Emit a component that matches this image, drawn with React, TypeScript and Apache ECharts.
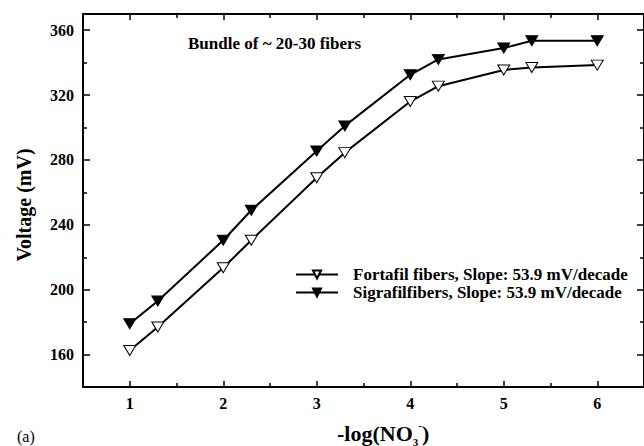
import React, { useEffect, useRef } from "react";
import * as echarts from "echarts";

const xValues = [1, 1.3, 2, 2.3, 3, 3.3, 4, 4.3, 5, 5.3, 6];
const fortafil = [162.5, 177, 213.5, 230.5, 269, 284.5, 316, 325.5, 335.5, 337, 338.5];
const sigrafil = [179, 193, 230.5, 249, 285.5, 301, 332.5, 342, 349, 353.5, 353.5];
const seriesNames = [
  "Fortafil fibers, Slope: 53.9 mV/decade",
  "Sigrafilfibers, Slope: 53.9 mV/decade",
];
const xMajorTicks = [1, 2, 3, 4, 5, 6];
const xMinorTicks = [1.5, 2.5, 3.5, 4.5, 5.5];
const yMajorTicks = [160, 200, 240, 280, 320, 360];
const yMinorTicks = [180, 220, 260, 300, 340];
const annotation = "Bundle of ~ 20-30 fibers";
const panelLabel = "(a)";
const yTitle = "Voltage (mV)";

const FONT = "Liberation Serif";

export default function App() {
  const ref = useRef<HTMLDivElement>(null);
  useEffect(() => {
    if (!ref.current) return;
    const chart = echarts.init(ref.current, null, { renderer: "svg" });
    const axisColor = "#000";
    const mkX = (pos: "bottom" | "top", ticks: number[], len: number, showLine: boolean, showLabel: boolean) => ({
      type: "value",
      position: pos,
      min: 0.5,
      max: 6.5,
      axisLine: { show: showLine, onZero: false, lineStyle: { color: axisColor, width: 2 } },
      axisTick: { show: true, inside: true, length: len, customValues: ticks, lineStyle: { color: axisColor, width: 1.5 } },
      axisLabel: {
        show: showLabel,
        customValues: ticks,
        margin: 8,
        color: "#000",
        fontFamily: FONT,
        fontWeight: "bold",
        fontSize: 16,
      },
      splitLine: { show: false },
    });
    const mkY = (pos: "left" | "right", ticks: number[], len: number, showLine: boolean, showLabel: boolean) => ({
      type: "value",
      position: pos,
      min: 140,
      max: 370,
      axisLine: { show: showLine, onZero: false, lineStyle: { color: axisColor, width: 2 } },
      axisTick: { show: true, inside: true, length: len, customValues: ticks, lineStyle: { color: axisColor, width: 1.5 } },
      axisLabel: {
        show: showLabel,
        customValues: ticks,
        margin: 9,
        color: "#000",
        fontFamily: FONT,
        fontWeight: "bold",
        fontSize: 16,
      },
      splitLine: { show: false },
    });

    const toData = (vals: number[]) => xValues.map((x, i) => [x, vals[i]]);

    chart.setOption({
      animation: false,
      backgroundColor: "#fff",
      grid: { left: 83, top: 14, width: 564, height: 373, containLabel: false },
      xAxis: [
        mkX("bottom", xMajorTicks, 6, true, true),
        mkX("bottom", xMinorTicks, 4, false, false),
        mkX("top", xMajorTicks, 6, true, false),
        mkX("top", xMinorTicks, 4, false, false),
      ],
      yAxis: [
        mkY("left", yMajorTicks, 7, true, true),
        mkY("left", yMinorTicks, 4, false, false),
        mkY("right", yMajorTicks, 7, true, false),
        mkY("right", yMinorTicks, 4, false, false),
      ],
      legend: {
        orient: "vertical",
        left: 295,
        top: 266,
        padding: 0,
        itemWidth: 42,
        itemHeight: 10,
        itemGap: 1,
        data: seriesNames,
        textStyle: {
          fontFamily: FONT,
          fontWeight: "bold",
          fontSize: 17,
          color: "#000",
          padding: [0, 0, 0, 10],
        },
      },
      series: [
        {
          name: seriesNames[0],
          type: "line",
          data: toData(fortafil),
          xAxisIndex: 0,
          yAxisIndex: 0,
          symbol: "triangle",
          symbolRotate: 180,
          symbolSize: [12, 10],
          lineStyle: { color: "#000", width: 2 },
          itemStyle: { color: "#fff", borderColor: "#000", borderWidth: 1 },
          z: 3,
        },
        {
          name: seriesNames[1],
          type: "line",
          data: toData(sigrafil),
          xAxisIndex: 0,
          yAxisIndex: 0,
          symbol: "triangle",
          symbolRotate: 180,
          symbolSize: [12, 10],
          lineStyle: { color: "#000", width: 2 },
          itemStyle: { color: "#000", borderColor: "#000", borderWidth: 1 },
          z: 3,
        },
      ],
      graphic: [
        {
          type: "text",
          left: 188,
          top: 35,
          style: {
            text: annotation,
            fontFamily: FONT,
            fontWeight: "bold",
            fontSize: 17,
            fill: "#000",
          },
        },
        {
          type: "text",
          x: 24,
          y: 205,
          rotation: Math.PI / 2,
          style: {
            text: yTitle,
            fontFamily: FONT,
            fontWeight: "bold",
            fontSize: 20,
            fill: "#000",
            align: "center",
            verticalAlign: "middle",
          },
        },
        {
          type: "text",
          left: 17,
          top: 428,
          style: {
            text: panelLabel,
            fontFamily: FONT,
            fontSize: 16,
            fill: "#000",
          },
        },
        {
          type: "text",
          left: 337,
          top: 419,
          style: {
            text: "-log(NO{sub|3}{sup|-})",
            fontFamily: FONT,
            fontWeight: "bold",
            fontSize: 22,
            lineHeight: 28,
            fill: "#000",
            rich: {
              sub: { fontFamily: FONT, fontWeight: "bold", fontSize: 11, lineHeight: 12, verticalAlign: "bottom", fill: "#000" },
              sup: { fontFamily: FONT, fontWeight: "bold", fontSize: 11, lineHeight: 12, verticalAlign: "top", fill: "#000" },
            },
          },
        },
      ],
    });
    return () => chart.dispose();
  }, []);
  return <div ref={ref} style={{ position: "fixed", left: 0, top: 0, width: 644, height: 446 }} />;
}
